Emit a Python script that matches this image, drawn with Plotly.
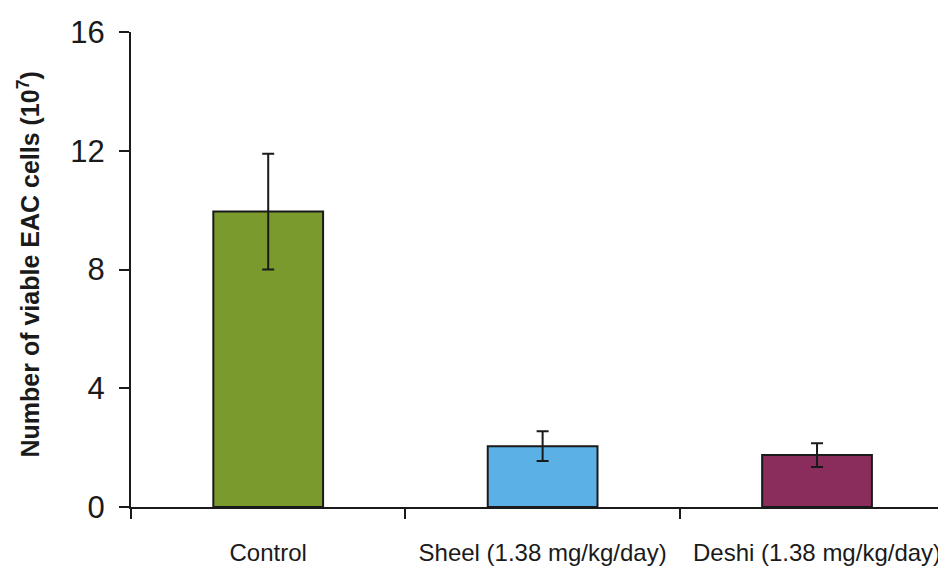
import plotly.graph_objects as go

categories = ["Control", "Sheel (1.38 mg/kg/day)", "Deshi (1.38 mg/kg/day)"]
values = [9.95, 2.05, 1.75]
errors = [1.95, 0.5, 0.4]
colors = ["#7b9a2e", "#5bb0e6", "#8a2c5c"]
y_ticks = [0, 4, 8, 12, 16]
y_title = "<b>Number of viable EAC cells (10<sup>7</sup>)</b>"

fig = go.Figure()
fig.add_trace(go.Bar(
    x=categories, y=values,
    marker=dict(color=colors, line=dict(color="#1a1a1a", width=2)),
    width=0.4,
    error_y=dict(type="data", array=errors, visible=True, color="#1a1a1a", thickness=2, width=6),
))

# page body has an 8px margin, so margins are shifted by -8 px
fig.update_layout(
    width=946, height=567,
    margin=dict(l=123, r=8, t=24, b=68, autoexpand=False),
    paper_bgcolor="white", plot_bgcolor="white",
    showlegend=False,
    font=dict(family="Arial, Liberation Sans, sans-serif", color="#1a1a1a"),
)
fig.add_annotation(
    text=y_title, textangle=-90,
    xref="paper", yref="paper", x=0, y=0.5,
    xanchor="center", yanchor="middle", xshift=-103, yshift=5,
    showarrow=False,
    font=dict(family="Liberation Sans, Arial, sans-serif", size=25, color="#1a1a1a"),
)
fig.update_xaxes(
    type="category", range=[-0.5, 2.47],
    showline=True, linecolor="#1a1a1a", linewidth=2,
    ticks="outside", ticklen=10, tickwidth=2, tickcolor="#1a1a1a",
    tickson="boundaries",
    tickfont=dict(family="Liberation Sans Narrow, Arial Narrow, Liberation Sans, sans-serif", size=24, color="#1a1a1a"),
    ticklabelstandoff=23,
    showgrid=False, automargin=False,
)
fig.update_yaxes(
    range=[0, 16], tickvals=y_ticks, ticktext=[str(v) for v in y_ticks],
    showline=True, linecolor="#1a1a1a", linewidth=2,
    ticks="outside", ticklen=10, tickwidth=2, tickcolor="#1a1a1a",
    tickfont=dict(family="Liberation Sans, Arial, sans-serif", size=31, color="#1a1a1a"),
    ticklabelstandoff=8,
    showgrid=False, zeroline=False, automargin=False,
)

fig.write_html("out.html")
